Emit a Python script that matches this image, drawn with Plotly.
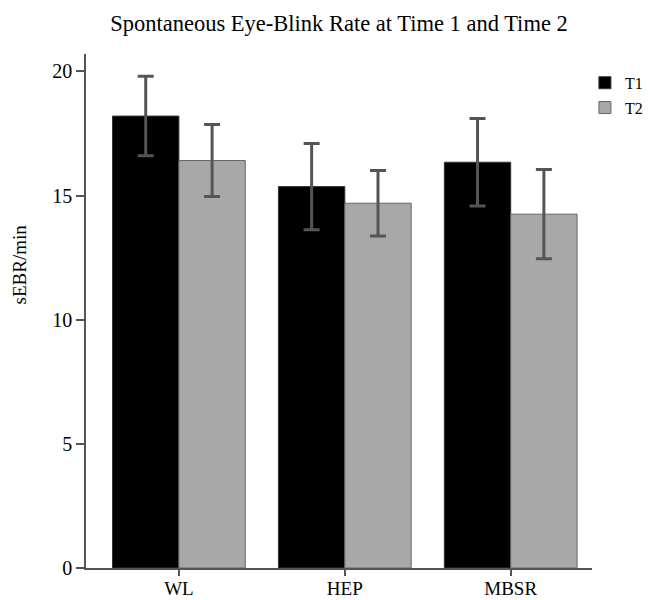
import plotly.graph_objects as go

categories = ["WL", "HEP", "MBSR"]
t1_values = [18.2, 15.36, 16.34]
t1_errors = [1.6, 1.74, 1.76]
t2_values = [16.41, 14.69, 14.25]
t2_errors = [1.45, 1.32, 1.8]
y_ticks = [0, 5, 10, 15, 20]
y_title = "sEBR/min"

font_family = "Liberation Serif, Times New Roman, serif"

fig = go.Figure()
fig.add_trace(go.Bar(
    x=categories, y=t1_values, name="T1", legendgroup="t1",
    marker=dict(color="#000000", line=dict(color="#333333", width=1)),
    error_y=dict(type="data", array=t1_errors, color="#555555", thickness=3, width=8),
))
fig.add_trace(go.Bar(
    x=categories, y=t2_values, name="T2", legendgroup="t2",
    marker=dict(color="#a8a8a8", line=dict(color="#666666", width=1)),
    error_y=dict(type="data", array=t2_errors, color="#555555", thickness=3, width=8),
))

fig.add_annotation(text=y_title, textangle=-90, xref="paper", yref="paper",
                   x=-0.131, y=0.59, xanchor="center", yanchor="middle",
                   showarrow=False, font=dict(size=19, family=font_family))

fig.update_layout(
    width=652, height=600,
    margin=dict(l=78, r=64, t=46, b=40),
    paper_bgcolor="white", plot_bgcolor="white",
    barmode="group", bargap=0.2, bargroupgap=0,
    font=dict(family=font_family, color="#000000", size=15),
    title=dict(text="Spontaneous Eye-Blink Rate at Time 1 and Time 2",
               x=0.5, xref="paper", xanchor="center", y=0.975, yanchor="middle",
               font=dict(size=22.5, family=font_family)),
    showlegend=True,
    legend=dict(x=0.986, y=0.977, xanchor="left", yanchor="top",
                font=dict(size=16, family=font_family), bgcolor="rgba(0,0,0,0)",
                itemwidth=30, tracegroupgap=1),
    xaxis=dict(range=[-0.56, 2.49], showgrid=False, showline=True, linecolor="#555555",
               linewidth=1.5, ticks="outside", ticklen=6, tickcolor="#555555",
               tickwidth=1.5, tickfont=dict(size=19), ticklabelstandoff=-4,
               zeroline=False, automargin=False),
    yaxis=dict(range=[0, 20.7], showgrid=False, showline=True, linecolor="#555555",
               linewidth=1.5, ticks="outside", ticklen=8, tickcolor="#555555",
               tickwidth=1.5, tickvals=y_ticks, tickfont=dict(size=20),
               zeroline=False, automargin=False),
)

fig.write_html("out.html")
